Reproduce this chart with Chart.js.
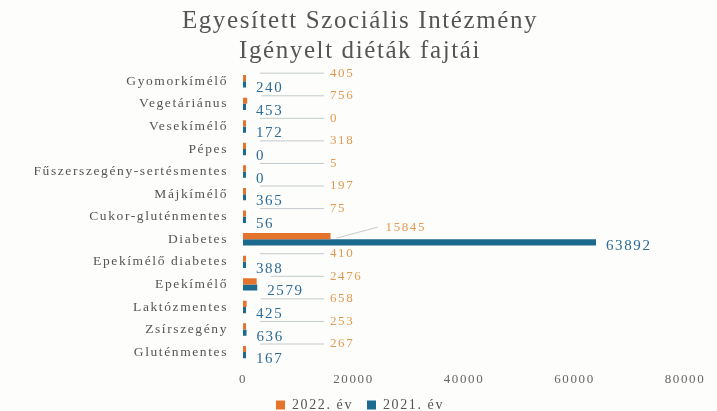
<!DOCTYPE html>
<html>
<head>
<meta charset="utf-8">
<script src="https://cdn.jsdelivr.net/npm/chart.js@4.4.1/dist/chart.umd.min.js"></script>
<style>
  html, body { margin: 0; padding: 0; background: #fdfdfb; }
  #wrap { width: 717px; height: 411px; }
</style>
</head>
<body>
<div id="wrap"><canvas id="dietChart" width="717" height="411"></canvas></div>
<script>
// categories, top to bottom as in the reference
const categories = [
    'Gyomorkímélő', 'Vegetáriánus', 'Vesekímélő', 'Pépes',
    'Fűszerszegény-sertésmentes', 'Májkímélő', 'Cukor-gluténmentes',
    'Diabetes', 'Epekímélő diabetes', 'Epekímélő', 'Laktózmentes',
    'Zsírszegény', 'Gluténmentes'
];
const values2022 = [405, 756, 0, 318, 5, 197, 75, 15845, 410, 2476, 658, 253, 267];
const values2021 = [240, 453, 172, 0, 0, 365, 56, 63892, 388, 2579, 425, 636, 167];
const seriesNames = ['2022. év', '2021. év'];
const xTicks = [0, 20000, 40000, 60000, 80000];

const serif = "'Liberation Serif', 'DejaVu Serif', serif";

// the printed chart has loose letter spacing everywhere
const spacingPlugin = {
    id: 'spacing',
    beforeUpdate(chart) { chart.ctx.letterSpacing = '1.6px'; },
    beforeLayout(chart) { chart.ctx.letterSpacing = '1.6px'; },
    beforeDraw(chart) { chart.ctx.letterSpacing = '1.6px'; }
};

// Excel style data labels: blue next to the bar, orange further right with a leader line
const labelPlugin = {
    id: 'dietLabels',
    afterDatasetsDraw(chart) {
        const ctx = chart.ctx;
        const xs = chart.scales.x;
        const m22 = chart.getDatasetMeta(0);
        const m21 = chart.getDatasetMeta(1);
        const x0 = xs.getPixelForValue(0);
        ctx.save();
        ctx.textBaseline = 'middle';
        ctx.textAlign = 'left';
        categories.forEach((c, i) => {
            const b22 = m22.data[i];
            const b21 = m21.data[i];

            // blue label
            ctx.fillStyle = '#2d6c98';
            ctx.font = '15px ' + serif;
            ctx.fillText(String(values2021[i]), Math.max(b21.x, x0 + 3) + 10, b21.y + 4);

            // orange label + leader line
            const ly = b22.y - 5;
            ctx.strokeStyle = '#c4cbce';
            ctx.lineWidth = 1;
            ctx.fillStyle = '#e39a52';
            ctx.font = '13px ' + serif;
            if (values2022[i] > 5000) {
                const lx = b22.x + 55;
                ctx.beginPath();
                ctx.moveTo(b22.x + 6, b22.y + 2);
                ctx.lineTo(lx - 8, ly - 4);
                ctx.stroke();
                ctx.fillText(String(values2022[i]), lx, ly - 4);
            } else {
                const lx = x0 + 87;
                ctx.beginPath();
                ctx.moveTo(Math.max(b22.x, x0) + 14, ly);
                ctx.lineTo(lx - 6, ly);
                ctx.stroke();
                ctx.fillText(String(values2022[i]), lx, ly);
            }
        });
        ctx.restore();
    }
};

new Chart(document.getElementById('dietChart').getContext('2d'), {
    type: 'bar',
    data: {
        labels: categories,
        datasets: [
            { label: seriesNames[0], data: values2022, backgroundColor: '#e4742c', minBarLength: 3 },
            { label: seriesNames[1], data: values2021, backgroundColor: '#1c6a8e', minBarLength: 3 }
        ]
    },
    options: {
        indexAxis: 'y',
        responsive: false,
        animation: false,
        categoryPercentage: 0.55,
        barPercentage: 1,
        layout: { padding: { left: 35, right: 32, top: 0, bottom: -11 } },
        plugins: {
            title: {
                display: true,
                text: ['Egyesített Szociális Intézmény', 'Igényelt diéták fajtái'],
                color: '#555',
                font: { family: serif, size: 25, weight: 'normal', lineHeight: 1.2 },
                padding: { top: 6, bottom: 4 }
            },
            legend: {
                position: 'bottom',
                labels: {
                    color: '#555',
                    boxWidth: 9,
                    boxHeight: 9,
                    padding: 14,
                    font: { family: serif, size: 14 }
                }
            },
            tooltip: { enabled: false }
        },
        scales: {
            x: {
                min: 0,
                max: 80000,
                afterBuildTicks: axis => { axis.ticks = xTicks.map(v => ({ value: v })); },
                afterFit: axis => { axis.height -= 3; },
                grid: { display: false },
                border: { display: false },
                ticks: { color: '#666', font: { family: serif, size: 13 }, padding: 0, callback: v => String(v) }
            },
            y: {
                afterFit: axis => { axis.width = 208; },
                grid: { display: false },
                border: { display: false },
                ticks: { color: '#555', autoSkip: false, font: { family: serif, size: 13.5 }, padding: 7 }
            }
        }
    },
    plugins: [spacingPlugin, labelPlugin]
});
</script>
</body>
</html>
